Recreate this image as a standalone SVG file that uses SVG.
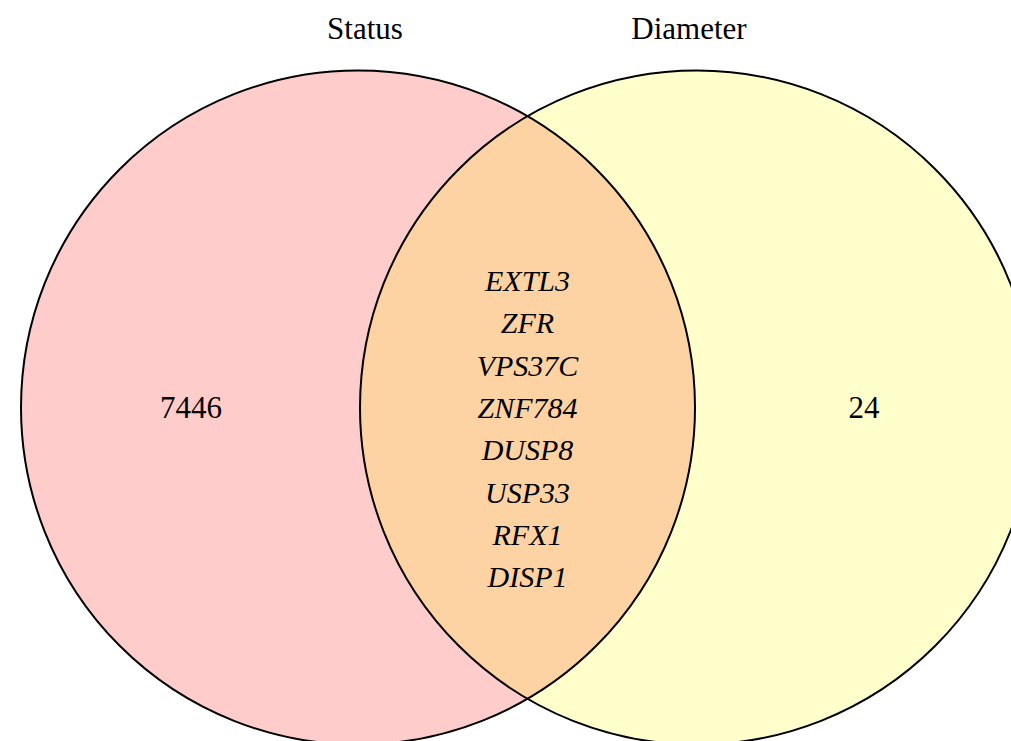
<svg xmlns="http://www.w3.org/2000/svg" width="1011" height="741" viewBox="0 0 1011 741">
<style>
.t{font-family:"Liberation Serif","Times New Roman",serif;font-size:31px;fill:#000;text-anchor:middle}
.g{font-family:"Liberation Serif","Times New Roman",serif;font-size:30px;font-style:italic;fill:#000;text-anchor:middle}
.c{stroke:#000;stroke-width:2}
</style>
<rect width="1011" height="741" fill="#fff"/>
<g id="status">
<circle cx="358" cy="407.5" r="337" fill="#FFCCCC"/>
</g>
<g id="diameter">
<circle cx="697" cy="407.5" r="337" fill="#FFFFCC"/>
</g>
<g id="overlap">
<path d="M527.5 116 A337 337 0 0 1 527.5 699 A337 337 0 0 1 527.5 116 Z" fill="#FED3A4"/>
</g>
<g id="outlines" fill="none">
<circle class="c" cx="358" cy="407.5" r="337"/>
<circle class="c" cx="697" cy="407.5" r="337"/>
</g>
<g id="labels">
<text class="t" x="365" y="39">Status</text>
<text class="t" x="689" y="39">Diameter</text>
<text class="t" x="191" y="418">7446</text>
<text class="t" x="864" y="418">24</text>
</g>
<g id="genes">
<text class="g" x="527.5" y="291">EXTL3</text>
<text class="g" x="527.5" y="333.3">ZFR</text>
<text class="g" x="527.5" y="375.6">VPS37C</text>
<text class="g" x="527.5" y="418">ZNF784</text>
<text class="g" x="527.5" y="460.3">DUSP8</text>
<text class="g" x="527.5" y="502.6">USP33</text>
<text class="g" x="527.5" y="545">RFX1</text>
<text class="g" x="527.5" y="587.3">DISP1</text>
</g>
</svg>
